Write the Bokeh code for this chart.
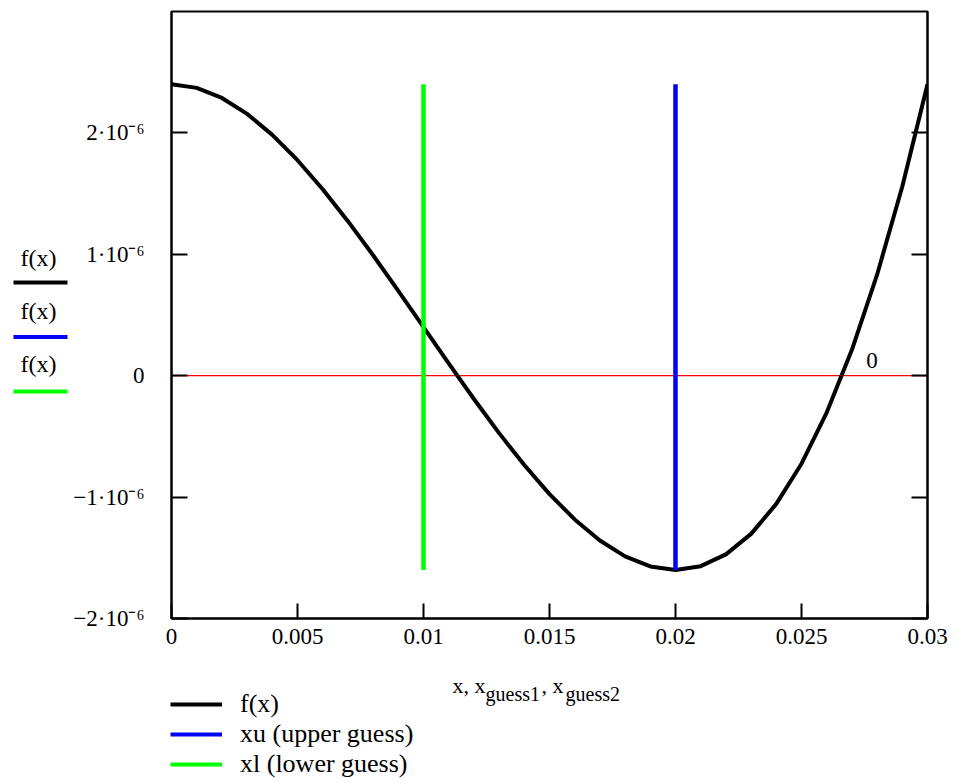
import numpy as np
from bokeh.plotting import figure
from bokeh.models import (Range1d, FixedTicker, LinearAxis, Label, Legend, LegendItem,
                          Span, CustomJSTickFormatter)
from bokeh.layouts import row, column
from bokeh.embed import file_html
from bokeh.resources import INLINE
from bokeh.core.properties import value

# ---- data ----
x_vals = [0.000, 0.001, 0.002, 0.003, 0.004, 0.005, 0.006, 0.007, 0.008, 0.009,
          0.010, 0.011, 0.012, 0.013, 0.014, 0.015, 0.016, 0.017, 0.018, 0.019,
          0.020, 0.021, 0.022, 0.023, 0.024, 0.025, 0.026, 0.027, 0.028, 0.029, 0.030]
f_micro = [2.400, 2.371, 2.288, 2.157, 1.984, 1.775, 1.536, 1.273, 0.992, 0.699,
           0.400, 0.101, -0.192, -0.473, -0.736, -0.975, -1.184, -1.357, -1.488, -1.571,
           -1.600, -1.569, -1.472, -1.303, -1.056, -0.725, -0.304, 0.213, 0.832, 1.559, 2.400]
x_lower = 0.01
x_upper = 0.02
x_ticks = [0, 0.005, 0.01, 0.015, 0.02, 0.025, 0.03]
x_tick_labels = ["0", "0.005", "0.01", "0.015", "0.02", "0.025", "0.03"]
y_ticks = [-2e-6, -1e-6, 0, 1e-6, 2e-6]
y_tick_labels = ["\u22122\u00b710\u207b\u2076", "\u22121\u00b710\u207b\u2076", "0",
                 "1\u00b710\u207b\u2076", "2\u00b710\u207b\u2076"]
x_min, x_max = 0.0, 0.03
y_min, y_max = -2e-6, 3e-6
marker_value = 0
marker_label_x = 0.0278
legend_labels = ["f(x)", "xu (upper guess)", "xl (lower guess)"]
key_labels = ["f(x)", "f(x)", "f(x)"]
colors = ["black", "#0000ff", "#00ff00"]
title_base = ["x, x", ", x"]
title_subs = ["guess1", "guess2"]

f_vals = np.array(f_micro) * 1e-6
f_lo, f_hi = float(f_vals.min()), float(f_vals.max())

SERIF = "Liberation Serif"
H_TOP = 660
H_BOT = 120
W_KEY = 70
W_ALL = 956

# ---- main plot ----
p = figure(width=W_ALL - W_KEY, height=H_TOP, x_range=Range1d(x_min, x_max),
           y_range=Range1d(y_min, y_max), output_backend="svg", toolbar_location=None,
           min_border_left=101, min_border_right=29, min_border_top=11, min_border_bottom=42,
           frame_align=False)
p.xgrid.visible = False
p.ygrid.visible = False
p.outline_line_color = "black"
p.outline_line_width = 2

xa = p.xaxis[0]
xa.ticker = FixedTicker(ticks=x_ticks)
xa.major_label_overrides = dict(zip(x_ticks, x_tick_labels))
xa.major_tick_in = 15
xa.major_tick_out = 0
xa.minor_tick_in = 0
xa.minor_tick_out = 0
xa.major_tick_line_width = 2
xa.axis_line_width = 2
xa.major_label_text_font = SERIF
xa.major_label_text_font_size = "23px"
xa.major_label_text_color = "black"
xa.major_label_standoff = 10

ya = p.yaxis[0]
ya.ticker = FixedTicker(ticks=y_ticks)
ya.major_label_overrides = dict(zip(y_ticks, y_tick_labels))
ya.major_tick_in = 16
ya.major_tick_out = 0
ya.minor_tick_in = 0
ya.minor_tick_out = 0
ya.major_tick_line_width = 2
ya.axis_line_width = 2
ya.major_label_text_font = SERIF
ya.major_label_text_font_size = "23px"
ya.major_label_text_color = "black"
ya.major_label_standoff = 27

ra = LinearAxis(ticker=FixedTicker(ticks=y_ticks),
                formatter=CustomJSTickFormatter(code="return ''"),
                major_tick_in=16, major_tick_out=0, minor_tick_in=0, minor_tick_out=0,
                major_tick_line_width=2, axis_line_width=2, major_label_standoff=0,
                major_label_text_font_size="1px")
p.add_layout(ra, "right")

p.add_layout(Span(location=marker_value, dimension="width", line_color="#ff0000",
                  line_width=1.3, level="underlay"))

r_f = p.line(x_vals, f_vals, line_width=4, line_color=colors[0], line_join="round")
r_u = p.line([x_upper, x_upper], [f_lo, f_hi], line_width=4.5, line_color=colors[1])
r_l = p.line([x_lower, x_lower], [f_lo, f_hi], line_width=4.5, line_color=colors[2])

p.add_layout(Label(x=marker_label_x, y=marker_value, y_offset=8, text=str(marker_value),
                   text_font=SERIF, text_font_size="23px", text_align="center",
                   text_baseline="bottom", text_color="black"))

# ---- left key (Mathcad-style y-axis trace labels) ----
k = figure(width=W_KEY, height=H_TOP, x_range=Range1d(0, W_KEY), y_range=Range1d(H_TOP, 0),
           output_backend="svg", toolbar_location=None, min_border=0,
           x_axis_type=None, y_axis_type=None, frame_align=False)
k.outline_line_color = None
k.grid.visible = False
key_text_y = [257 + 53 * i for i in range(3)]
key_line_y = [282 + 54.5 * i for i in range(3)]
k.text(x=[38] * 3, y=key_text_y, text=key_labels, text_font=value(SERIF),
       text_font_size="24px", text_align="center", text_baseline="middle", text_color="black")
k.multi_line(xs=[[13, 67]] * 3, ys=[[yy, yy] for yy in key_line_y], line_color=colors,
             line_width=4)

# ---- bottom: x-axis title (with subscripts) and legend ----
b = figure(width=W_ALL, height=H_BOT, x_range=Range1d(0, W_ALL), y_range=Range1d(H_BOT, 0),
           output_backend="svg", toolbar_location=None, min_border=0,
           x_axis_type=None, y_axis_type=None, frame_align=False)
b.outline_line_color = None
b.grid.visible = False
b.text(x=[452, 541], y=[25, 25], text=title_base, text_font=value(SERIF),
       text_font_size="22px", text_align="left", text_baseline="alphabetic", text_color="black")
b.text(x=[485, 565], y=[33, 33], text=title_subs, text_font=value(SERIF),
       text_font_size="20px", text_align="left", text_baseline="alphabetic", text_color="black")

lr = [b.line(x=[np.nan, np.nan], y=[np.nan, np.nan], line_width=4, line_color=c) for c in colors]
legend = Legend(items=[LegendItem(label=lab, renderers=[r]) for lab, r in zip(legend_labels, lr)],
                location=(170, 1), orientation="vertical", border_line_color=None,
                background_fill_alpha=0, label_text_font=SERIF, label_text_font_size="26px",
                label_text_color="black", glyph_width=52, glyph_height=30, label_height=30,
                spacing=0, padding=0, margin=0, label_standoff=18)
b.add_layout(legend)

layout = column(row(k, p), b)
open("out.html", "w").write(file_html(layout, INLINE))
